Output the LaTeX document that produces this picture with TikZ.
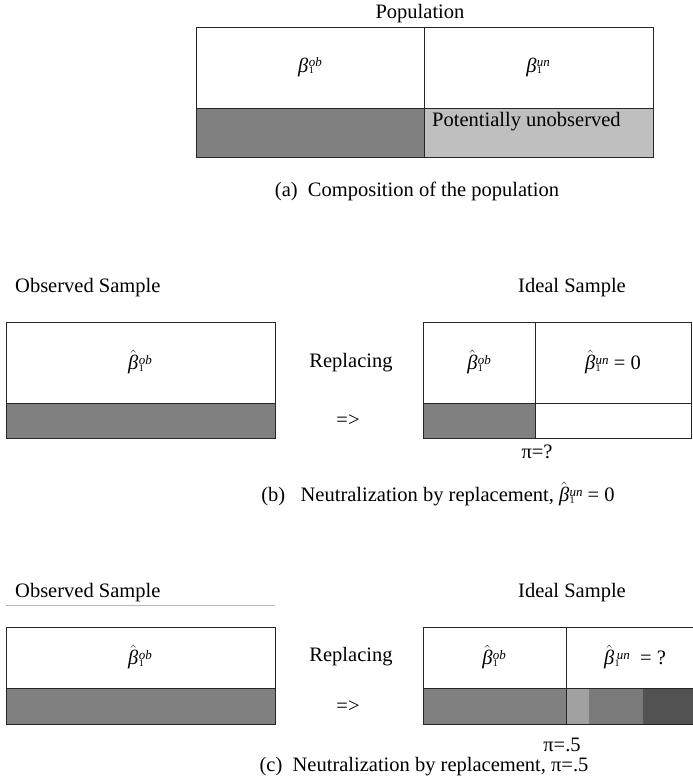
\documentclass[tikz,border=0pt]{standalone}
\usepackage{fontspec}
\setmainfont{Liberation Serif}

\definecolor{obsgray}{gray}{0.50}
\definecolor{ungray}{gray}{0.75}
\definecolor{rulegray}{gray}{0.72}
\definecolor{mixlight}{gray}{0.63}
\definecolor{mixmid}{gray}{0.48}
\definecolor{mixdark}{gray}{0.32}

% coefficient symbols, set in the text font
\newcommand{\coefscr}[1]{\rlap{\raisebox{-1.5pt}{\fontsize{10}{10}\selectfont 1}}%
    \raisebox{5.5pt}{\fontsize{13}{13}\selectfont\itshape #1}}
\newcommand{\coefpop}[1]{\textit{β}\kern0.3pt\coefscr{#1}}
\newcommand{\coefest}[1]{$\hat{\mbox{\itshape β}}$\kern0.3pt\coefscr{#1}}

\begin{document}
\begin{tikzpicture}[x=1pt,y=-1pt,
    every node/.style={font=\fontsize{20.5}{24}\selectfont,inner sep=0pt},
    frame/.style={draw=black!85,line width=0.9pt}
]
    \useasboundingbox (0,0) rectangle (693,779);

    % (a) composition of the population
    \fill[obsgray] (196,108) rectangle (424,157);
    \fill[ungray] (424,108) rectangle (653,157);
    \draw[frame] (196,27) rectangle (653,157);
    \draw[frame] (424,27) -- (424,157) (196,108) -- (653,108);
    \node (pop) at (420,14) {Population};
    \node (popob) at (310,67) {\coefpop{ob}};
    \node (popun) at (538,67) {\coefpop{un}};
    \node[anchor=west] (popmiss) at (432,122) {Potentially unobserved};
    \node (capa) at (417,191) {(a)\ \ Composition of the population};

    % (b) neutralization, beta = 0
    \node[anchor=west] (obsb) at (15,288) {Observed Sample};
    \node (idealb) at (572,288) {Ideal Sample};
    \fill[obsgray] (6,403) rectangle (275,438);
    \draw[frame] (6,322) rectangle (275,438);
    \draw[frame] (6,403) -- (275,403);
    \node (obsbob) at (140,362) {\coefest{ob}};
    \node (replb) at (351,363) {Replacing};
    \node (arrb) at (348,421) {=>};
    \fill[obsgray] (423,403) rectangle (535,438);
    \draw[frame] (423,322) rectangle (691,438);
    \draw[frame] (535,322) -- (535,438) (423,403) -- (691,403);
    \node (idbob) at (479,362) {\coefest{ob}};
    \node (idbun) at (613,362) {\coefest{un} = 0};
    \node (pib) at (537,452) {π=?};
    \node (capb) at (438,494) {(b)\ \ \ Neutralization by replacement, \coefest{un} = 0};

    % (c) neutralization, pi = .5
    \node[anchor=west] (obsc) at (15,593) {Observed Sample};
    \draw[rulegray,line width=0.6pt] (6,605) -- (275,605);
    \node (idealc) at (572,593) {Ideal Sample};
    \fill[obsgray] (6,688) rectangle (275,724);
    \draw[frame] (6,627) rectangle (275,724);
    \draw[frame] (6,688) -- (275,688);
    \node (obscob) at (140,657) {\coefest{ob}};
    \node (replc) at (351,657) {Replacing};
    \node (arrc) at (348,707) {=>};
    \fill[obsgray] (423,688) rectangle (566,724);
    \fill[mixlight] (566,688) rectangle (589,724);
    \fill[mixmid] (589,688) rectangle (643,724);
    \fill[mixdark] (643,688) rectangle (693,724);
    \draw[frame] (693,627) -- (423,627) -- (423,724) -- (693,724);
    \draw[frame] (566,627) -- (566,724) (423,688) -- (693,688);
    \node (idcob) at (494,657) {\coefest{ob}};
    \node (idcun) at (635,657) {\coefest{\,un}\ \ =\ ?};
    \node (pic) at (562,745) {π=.5};
    \node (capc) at (424,767) {(c)\ \ Neutralization by replacement, π=.5};
\end{tikzpicture}
\end{document}
